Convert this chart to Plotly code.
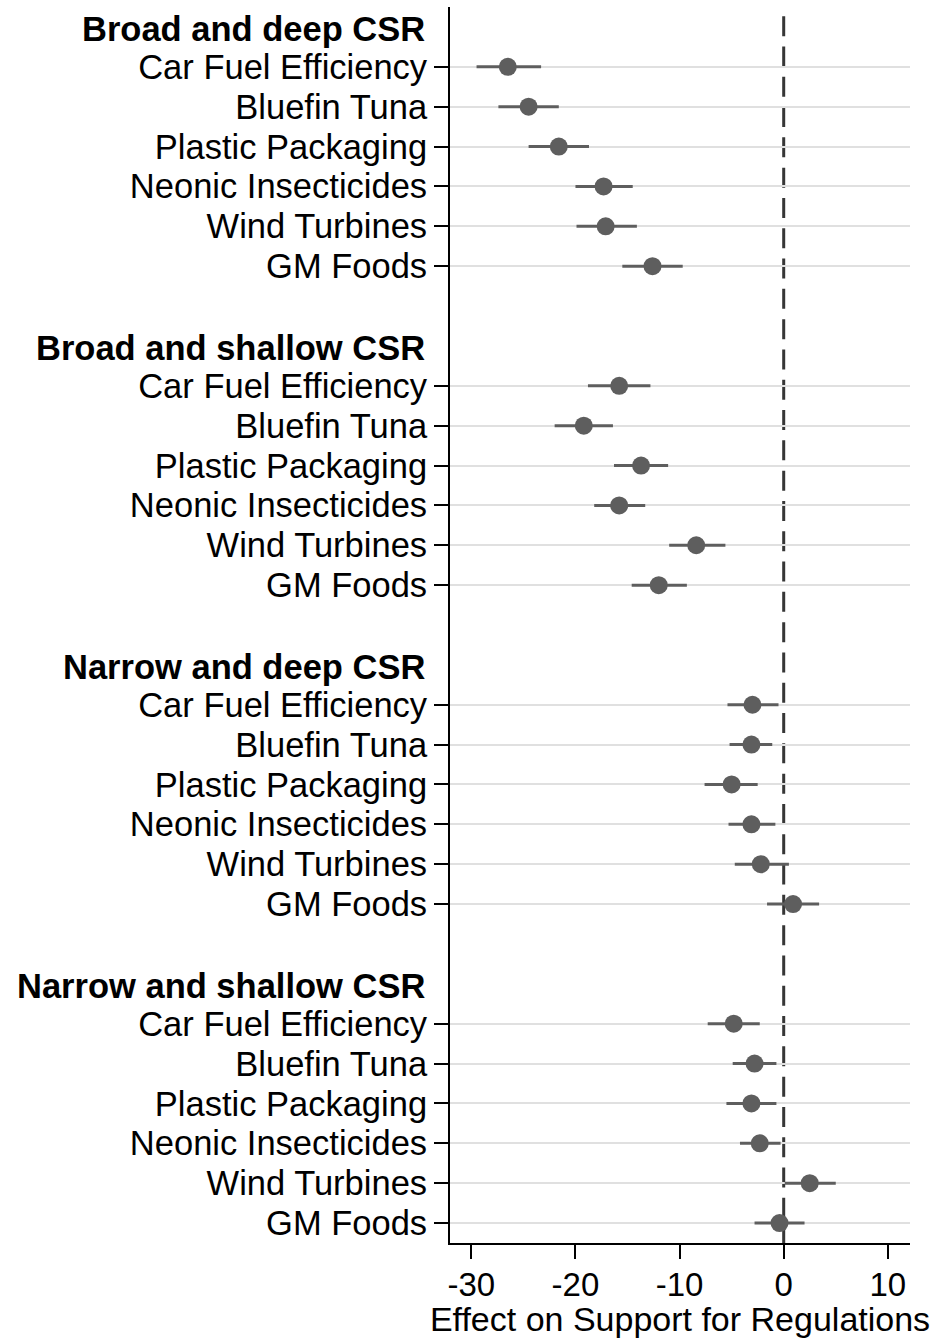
import plotly.graph_objects as go

# Group headers and the issues listed under each
groups = ["Broad and deep CSR", "Broad and shallow CSR",
          "Narrow and deep CSR", "Narrow and shallow CSR"]
issues = ["Car Fuel Efficiency", "Bluefin Tuna", "Plastic Packaging",
          "Neonic Insecticides", "Wind Turbines", "GM Foods"]

# Point estimates and 95% confidence bounds per group (issue order as above)
broad_deep_est = [-26.5, -24.5, -21.6, -17.3, -17.1, -12.6]
broad_deep_lo = [-29.5, -27.4, -24.5, -20.0, -19.9, -15.5]
broad_deep_hi = [-23.3, -21.6, -18.7, -14.5, -14.1, -9.7]

broad_shallow_est = [-15.8, -19.2, -13.7, -15.8, -8.4, -12.0]
broad_shallow_lo = [-18.8, -22.0, -16.3, -18.2, -11.0, -14.6]
broad_shallow_hi = [-12.8, -16.4, -11.1, -13.3, -5.6, -9.3]

narrow_deep_est = [-3.0, -3.1, -5.0, -3.1, -2.2, 0.9]
narrow_deep_lo = [-5.4, -5.2, -7.6, -5.3, -4.7, -1.6]
narrow_deep_hi = [-0.5, -1.1, -2.5, -0.8, 0.5, 3.4]

narrow_shallow_est = [-4.8, -2.8, -3.1, -2.3, 2.5, -0.4]
narrow_shallow_lo = [-7.3, -4.9, -5.5, -4.2, 0.1, -2.8]
narrow_shallow_hi = [-2.3, -0.7, -0.7, -0.3, 5.0, 2.0]

estimates = [broad_deep_est, broad_shallow_est, narrow_deep_est, narrow_shallow_est]
lowers = [broad_deep_lo, broad_shallow_lo, narrow_deep_lo, narrow_shallow_lo]
uppers = [broad_deep_hi, broad_shallow_hi, narrow_deep_hi, narrow_shallow_hi]

x_ticks = [-30, -20, -10, 0, 10]

FONT = "Liberation Sans, Arial, sans-serif"
FS = 34.5
DOT = "#5e5e5e"

# Row layout: header row, six issue rows, one blank spacer row per group
rows_per_group = len(issues) + 2
xs, ys, err_plus, err_minus = [], [], [], []
tickvals, ticktext, header_rows = [], [], []
for g, name in enumerate(groups):
    base = g * rows_per_group
    header_rows.append(base)
    for i, issue in enumerate(issues):
        y = base + 1 + i
        est = estimates[g][i]
        xs.append(est)
        ys.append(y)
        err_plus.append(uppers[g][i] - est)
        err_minus.append(est - lowers[g][i])
        tickvals.append(y)
        ticktext.append(issue)

last_row = (len(groups) - 1) * rows_per_group + len(issues)

fig = go.Figure()
fig.add_trace(go.Scatter(
    x=xs, y=ys, mode="markers",
    marker=dict(size=18, color=DOT, line=dict(width=0)),
    error_x=dict(type="data", symmetric=False, array=err_plus,
                 arrayminus=err_minus, thickness=3, width=0, color=DOT),
    showlegend=False, hoverinfo="x+y",
))

# Reference line at zero effect
fig.add_shape(type="line", xref="x", yref="y", x0=0, x1=0,
              y0=-0.27, y1=last_row + 0.5,
              line=dict(color="#363636", width=3, dash="20px,10.3px"),
              layer="below")

for g, name in enumerate(groups):
    fig.add_annotation(text="<b>%s</b>" % name, xref="paper", yref="y",
                       x=0, y=header_rows[g], xshift=-23, yshift=-2,
                       xanchor="right", yanchor="middle", showarrow=False,
                       font=dict(family=FONT, size=FS, color="black"))

fig.update_layout(
    width=943, height=1338,
    margin=dict(l=450, r=33, t=7, b=95),
    paper_bgcolor="white", plot_bgcolor="white",
    font=dict(family=FONT, size=FS, color="black"),
    xaxis=dict(range=[-32.05, 12.13], tickvals=x_ticks,
               ticktext=[str(v) for v in x_ticks],
               showgrid=False, zeroline=False, showline=True,
               linecolor="black", linewidth=2, ticks="outside",
               ticklen=14, tickwidth=2, tickcolor="black",
               ticklabelstandoff=-3,
               tickfont=dict(family=FONT, size=33, color="black"),
               title=dict(text="Effect on Support for Regulations",
                          font=dict(family=FONT, size=34, color="black"),
                          standoff=3)),
    yaxis=dict(range=[last_row + 0.5, -0.5], tickvals=tickvals,
               ticktext=ticktext, showgrid=True, gridcolor="#e0e0e0",
               gridwidth=2, zeroline=False, showline=True,
               linecolor="black", linewidth=2, ticks="outside",
               ticklen=14, tickwidth=2, tickcolor="black",
               tickfont=dict(family=FONT, size=FS, color="black")),
)

fig.write_html("out.html")
